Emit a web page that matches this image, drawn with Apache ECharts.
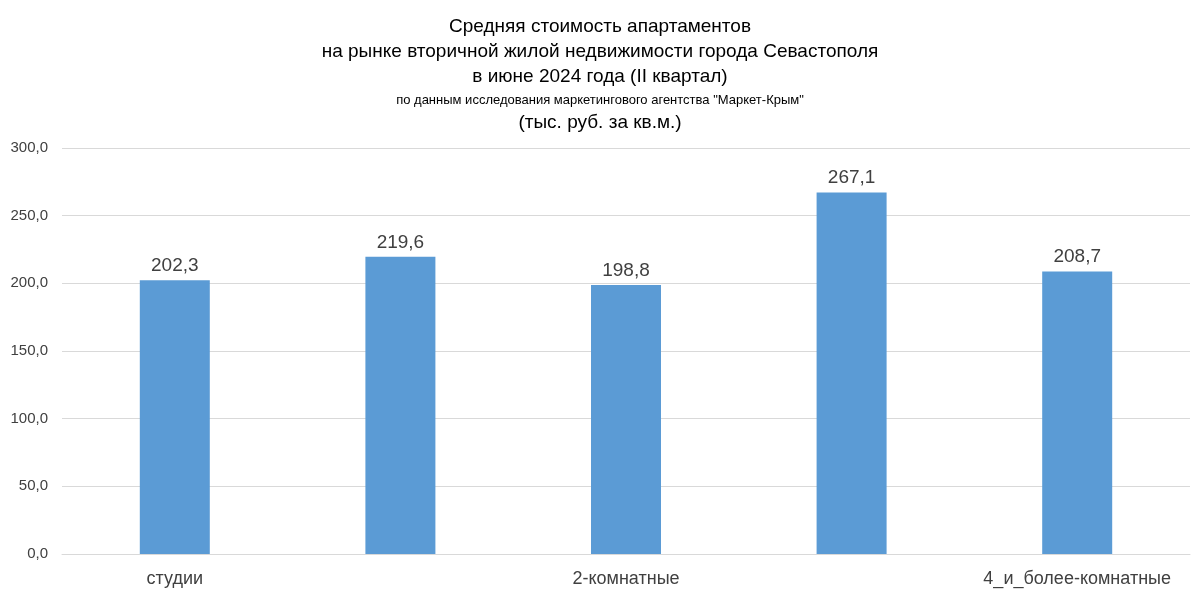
<!DOCTYPE html><html><head><meta charset="utf-8"><script src="https://cdn.jsdelivr.net/npm/echarts@6/dist/echarts.min.js"></script></head><body style="margin:0;background:#fff"><div id="c" style="width:1200px;height:601px"></div><script>
const categories=['студии','1-комнатные','2-комнатные','3-комнатные','4_и_более-комнатные'];
const values=[202.3,219.6,198.8,267.1,208.7];
const titleLines=['Средняя стоимость апартаментов','на рынке вторичной жилой недвижимости города Севастополя','в июне 2024 года (II квартал)','по данным исследования маркетингового агентства "Маркет-Крым"','(тыс. руб. за кв.м.)'];
const f='"Liberation Sans", Arial, sans-serif';
const tops=[12,37,62,89,108],sizes=[19,19,19,13,19];
const ch=echarts.init(document.getElementById('c'));
ch.setOption({
 title:titleLines.map((t,i)=>({text:t,left:'center',top:tops[i],textStyle:{fontFamily:f,fontSize:sizes[i],fontWeight:'normal',color:'#000'}})),
 grid:{left:62,right:10,top:148,bottom:47},
 xAxis:{type:'category',data:categories,axisTick:{show:false},axisLine:{lineStyle:{color:'#d9d9d9'}},axisLabel:{fontFamily:f,fontSize:18,color:'#404040',margin:16}},
 yAxis:{type:'value',min:0,max:300,interval:50,axisLabel:{fontFamily:f,fontSize:15,color:'#404040',formatter:v=>v.toFixed(1).replace('.',','),margin:14},splitLine:{lineStyle:{color:'#d9d9d9'}}},
 series:[{type:'bar',data:values,barWidth:70,itemStyle:{color:'#5b9bd5'},label:{show:true,position:'top',fontFamily:f,fontSize:19,color:'#404040',formatter:p=>p.value.toFixed(1).replace('.',',')}}]
});
</script></body></html>
